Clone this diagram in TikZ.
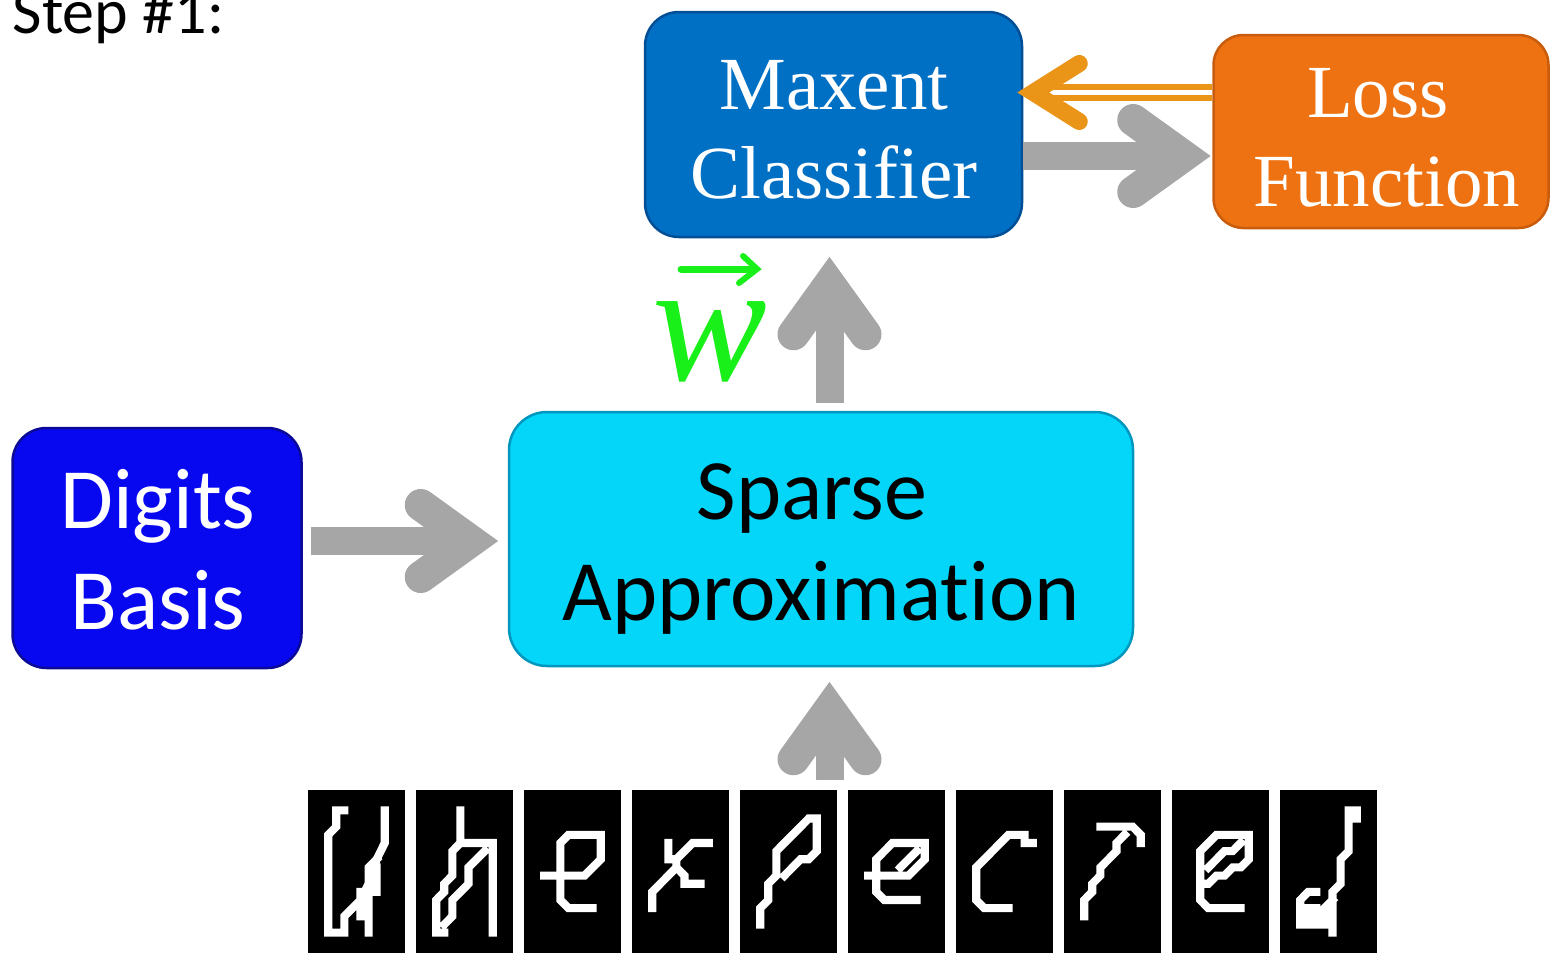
\documentclass[tikz,border=0pt]{standalone}
\usepackage{fontspec}
\setmainfont{Liberation Serif}
\newfontfamily\calib[Ligatures=NoCommon]{Carlito}
\usetikzlibrary{calc,decorations.markings}
\definecolor{maxblue}{RGB}{0,112,196}
\definecolor{maxedge}{RGB}{0,78,150}
\definecolor{lossor}{RGB}{238,114,17}
\definecolor{lossedge}{RGB}{200,92,12}
\definecolor{digblue}{RGB}{8,8,240}
\definecolor{digedge}{RGB}{10,10,150}
\definecolor{spcyan}{RGB}{4,214,250}
\definecolor{spedge}{RGB}{0,150,190}
\definecolor{agray}{RGB}{166,166,166}
\definecolor{aorange}{RGB}{234,148,24}
\definecolor{wgreen}{RGB}{25,240,25}
\newcommand\mnist[2]{%
  \begin{scope}[shift={(308+108*#1,790)}]
    \fill[black] (0,0) rectangle (97,163);
    \begin{scope}[x=8.08pt,y=-8.15pt,shift={(0.5,0.5)}]
      \draw[pix] #2;
    \end{scope}
  \end{scope}}
\begin{document}
\begin{tikzpicture}[x=1pt,y=-1pt,
  box/.style={rectangle,rounded corners=34pt,line width=2.5pt,inner sep=0pt},
  serifT/.style={text=white,align=center,inner sep=0pt,font=\fontsize{75}{89}\selectfont},
  sansT/.style={align=center,inner sep=0pt,font=\calib\fontsize{86}{101}\selectfont},
  pix/.style={draw=white,line width=8.1pt,line cap=rect,line join=miter},
  gshaft/.style={draw=agray,line width=28pt,shorten >=36pt},
  ghead/.style={decorate,decoration={markings,mark=at position 1 with {\draw[agray,line width=32pt,line cap=round,line join=miter,miter limit=10] (-78,-36) -- (-28,0) -- (-78,36);}}},
  oline/.style={draw=aorange,line width=6pt,double=white,double distance=5pt,shorten >=30pt},
  ohead/.style={decorate,decoration={markings,mark=at position 1 with {\draw[aorange,line width=17pt,line cap=round,line join=miter,miter limit=10] (-63,-29) -- (-17,0) -- (-63,29);}}}
]
\useasboundingbox (0,0) rectangle (1550,953);

% boxes
\node[box,fill=maxblue,draw=maxedge,minimum width=377,minimum height=225] (maxent) at (833.5,124.5) {};
\node[box,fill=lossor,draw=lossedge,rounded corners=30pt,minimum width=335,minimum height=193] (loss) at (1381,131.5) {};
\node[box,fill=digblue,draw=digedge,minimum width=289,minimum height=240] (digits) at (157,548) {};
\node[box,fill=spcyan,draw=spedge,rounded corners=38pt,minimum width=624,minimum height=254] (sparse) at (821,539) {};

% texts
\node[serifT] (maxentT) at (834,129.7) {Maxent\\Classifier};
\node[serifT] (lossT) at (1387,137.5) {Loss\kern18pt\\Function};
\node[sansT,text=white] (digitsT) at (158,549.5) {Digits\\Basis};
\node[sansT,text=black] (sparseT) at (821,549.5) {Sparse\kern18pt\\Approximation};
\node[anchor=base west,inner sep=0pt,font=\calib\fontsize{64}{64}\selectfont] (step) at (12.5,33) {Step \#1:};

% w vector label
\node[anchor=base west,inner sep=0pt,text=wgreen,font=\fontsize{172}{172}\selectfont\itshape] (wlab) at (652,380) {w};
\draw[wgreen,line width=7pt,line cap=round] (681,269) -- (754,269);
\draw[wgreen,line width=6pt,line cap=round,line join=miter] (743,256) -- (757,269) -- (739,283);

% image strip
\node[inner sep=0pt,minimum width=1070,minimum height=163] (imgs) at (843,871.5) {};
\coordinate (upA) at (829.5,780);

% connectors
\draw[gshaft] ($(digits.east)+(8,-7)$) -- ($(sparse.west)+(-9,2)$);
\path[ghead] ($(digits.east)+(8,-7)$) -- ($(sparse.west)+(-9,2)$);

\draw[gshaft] (upA) -- ($(sparse.south -| upA)+(0,14)$);
\path[ghead] (upA) -- ($(sparse.south -| upA)+(0,14)$);

\draw[gshaft] ($(sparse.north -| upA)+(0,-8)$) -- ($(maxent.south -| upA)+(0,18)$);
\path[ghead] ($(sparse.north -| upA)+(0,-8)$) -- ($(maxent.south -| upA)+(0,18)$);

\draw[gshaft] ($(maxent.east)+(0,31.5)$) -- ($(loss.west)+(-1,24.5)$);
\path[ghead] ($(maxent.east)+(0,31.5)$) -- ($(loss.west)+(-1,24.5)$);

\draw[oline] ($(loss.west)+(0,-39)$) -- ($(maxent.east)+(-7,-32)$);
\path[ohead] ($(loss.west)+(0,-39)$) -- ($(maxent.east)+(-7,-32)$);

% handwritten digit images
\mnist{0}{(4,2)--(3,2)--(3,4)--(2,5)--(2,17)--(4,17)--(4,15)--(5,14)--(6,13)--(7,11)--(8,8)--(9,6)--(9,2) (8,8)--(7,9)--(7,17) (8,9)--(8,12) (6,12)--(6,15)}
\mnist{1}{(5,2)--(5,6)--(4,7)--(4,10)--(3,11)--(3,12)--(2,13)--(2,17)--(3,17) (5,6)--(9,6)--(9,17) (8,7)--(7,8)--(6,9)--(6,11)--(5,12)--(4,13)--(4,15)--(3,16)}
\mnist{2}{(2,10)--(7,10)--(8,9)--(9,8)--(9,5)--(5,5)--(4,6)--(4,13)--(5,14)--(8,14)}
\mnist{3}{(4,6)--(4,8)--(5,8)--(6,7)--(7,6)--(9,6) (2,14)--(2,12)--(3,11)--(4,10)--(5,9)--(5,8) (5,9)--(6,10)--(6,11)--(8,11)}
\mnist{4}{(2,16)--(2,14)--(3,13)--(3,11)--(4,10)--(4,7)--(5,6)--(6,5)--(7,4)--(8,3)--(9,3)--(9,7)--(8,8)--(7,8)--(6,9)--(5,10)}
\mnist{5}{(2,10)--(7,10)--(8,9)--(9,8)--(9,6)--(5,6)--(4,7)--(3,8)--(3,12)--(4,13)--(8,13) (8,7)--(7,8)--(6,9)}
\mnist{6}{(9,6)--(8,6)--(8,5)--(6,5)--(5,6)--(4,7)--(3,8)--(2,9)--(2,13)--(3,14)--(6,14)}
\mnist{7}{(4,4)--(8,4)--(9,5)--(9,6) (7,5)--(6,6)--(6,7)--(5,8)--(4,9)--(4,10)--(3,11)--(3,12)--(2,13)--(2,15)}
\mnist{8}{(9,5)--(5,5)--(4,6)--(3,7)--(3,13)--(4,14)--(8,14) (9,5)--(9,8)--(8,9)--(7,9)--(6,10)--(5,10)--(4,11)--(3,11) (8,6)--(7,7)--(6,7)--(5,8)--(4,9)}
\mnist{9}{(8,2)--(9,2)--(9,3)--(8,3)--cycle (8,4)--(8,7)--(7,8)--(7,11)--(6,12)--(6,17) (4,12)--(3,12)--(2,13)--(2,16)--(5,16)--(5,14)--(6,13) (3,14)--(4,14) (3,15)--(4,15)}
\end{tikzpicture}
\end{document}
